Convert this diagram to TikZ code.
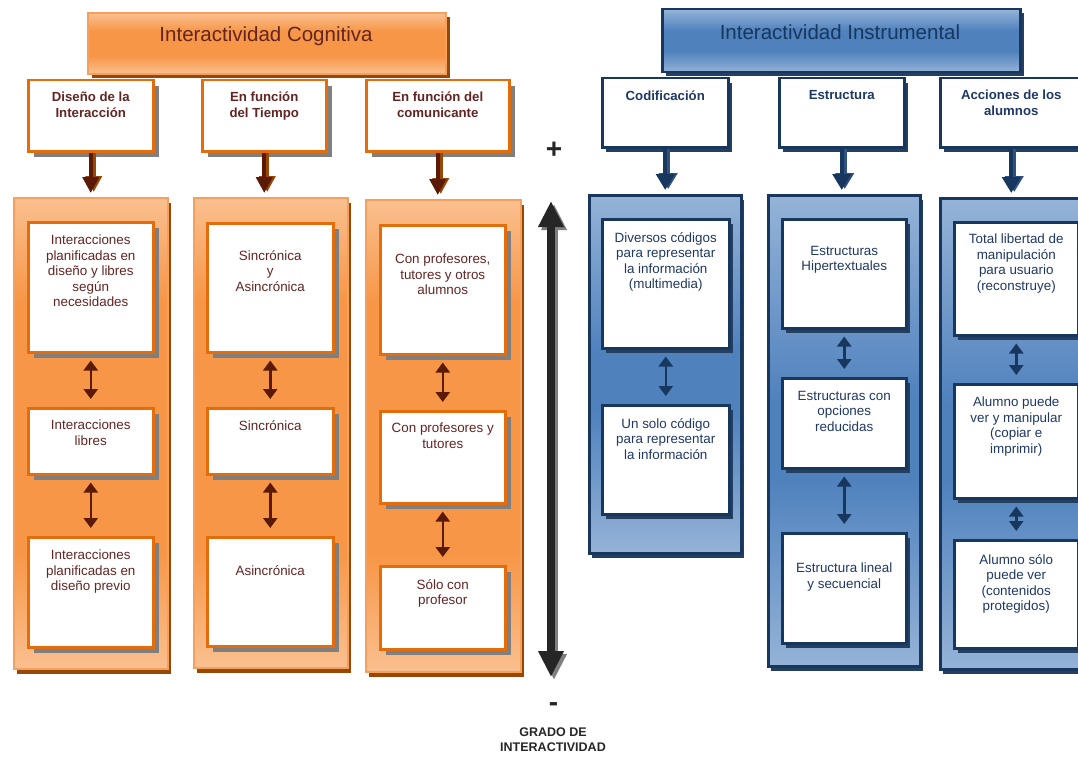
\documentclass[tikz,border=0pt]{standalone}
\usepackage{fontspec}
\setmainfont{Liberation Sans}
\usetikzlibrary{arrows.meta,shadows}

\definecolor{orLight}{HTML}{FAC090}
\definecolor{orMid}{HTML}{F79646}
\definecolor{orEdge}{HTML}{F5A05E}
\definecolor{orLine}{HTML}{E46C0A}
\definecolor{orDark}{HTML}{984806}
\definecolor{brownTxt}{HTML}{632523}
\definecolor{brownArrow}{HTML}{5A1A06}
\definecolor{blLight}{HTML}{95B3D7}
\definecolor{blMid}{HTML}{4F81BD}
\definecolor{navy}{HTML}{17375E}
\definecolor{navyTxt}{HTML}{1F3864}
\definecolor{navyShadow}{HTML}{243F60}
\definecolor{navyArrowSh}{HTML}{2F5080}
\definecolor{shGray}{HTML}{7F7F7F}
\definecolor{axisDark}{HTML}{262626}

% vertical fills: light edges, saturated middle band
\pgfdeclareverticalshading{orpanelfill}{100bp}{color(0bp)=(orLight); color(25bp)=(orLight);
  color(37.5bp)=(orMid); color(64bp)=(orMid); color(75bp)=(orLight); color(100bp)=(orLight)}
\pgfdeclareverticalshading{ortitlefill}{100bp}{color(0bp)=(orLight); color(25bp)=(orLight);
  color(40bp)=(orMid); color(60bp)=(orMid); color(75bp)=(orLight); color(100bp)=(orLight)}
\pgfdeclareverticalshading{blpanelfill}{100bp}{color(0bp)=(blLight); color(25bp)=(blLight);
  color(45bp)=(blMid); color(53bp)=(blMid); color(75bp)=(blLight); color(100bp)=(blLight)}
\pgfdeclareverticalshading{bltitlefill}{100bp}{color(0bp)=(blLight); color(25bp)=(blLight);
  color(42bp)=(blMid); color(58bp)=(blMid); color(75bp)=(blLight); color(100bp)=(blLight)}

\newcommand\bodyfont{\fontsize{13.4}{15.5}\selectfont}
\newcommand\headfont{\fontsize{13.2}{16}\selectfont\bfseries}
\newcommand\titlefont{\fontsize{20.5}{24}\selectfont}

\begin{document}
\begin{tikzpicture}[x=1pt,y=-1pt,
  % shapes
  otitle/.style={draw=orEdge, line width=2pt, shading=ortitlefill,
    drop shadow={shadow xshift=4pt, shadow yshift=-4pt, fill=orDark, opacity=1}, anchor=north west},
  btitle/.style={draw=navy, line width=2.5pt, shading=bltitlefill,
    drop shadow={shadow xshift=4pt, shadow yshift=-4pt, fill=navyShadow, opacity=1}, anchor=north west},
  opanel/.style={draw=orEdge, line width=1.5pt, shading=orpanelfill,
    drop shadow={shadow xshift=3pt, shadow yshift=-5pt, fill=orDark, opacity=1}, anchor=north west},
  bpanel/.style={draw=navy, line width=2.5pt, shading=blpanelfill,
    drop shadow={shadow xshift=3pt, shadow yshift=-5pt, fill=navyShadow, opacity=1}, anchor=north west},
  obox/.style={draw=orLine, line width=2.5pt, fill=white,
    drop shadow={shadow xshift=6pt, shadow yshift=-6pt, fill=shGray, opacity=1}, anchor=north west},
  bbox/.style={draw=navy, line width=2.5pt, fill=white,
    drop shadow={shadow xshift=4pt, shadow yshift=-5pt, fill=navyShadow, opacity=1}, anchor=north west},
  % texts
  otxt/.style={text=brownTxt, font=\bodyfont, align=center, inner sep=0pt, anchor=north},
  btxt/.style={text=navyTxt, font=\bodyfont, align=center, inner sep=0pt, anchor=north},
  ohead/.style={text=brownTxt, font=\headfont, align=center, inner sep=0pt, anchor=north},
  bhead/.style={text=navyTxt, font=\headfont, align=center, inner sep=0pt, anchor=north},
  signtxt/.style={font=\fontsize{28}{30}\selectfont\bfseries, text=axisDark, inner sep=0pt},
  % connectors
  odown/.style={draw=brownArrow, line width=4pt, -{Triangle[width=16pt,length=16pt]}, shorten >=4pt},
  odownsh/.style={draw=orDark, line width=4pt, -{Triangle[width=16pt,length=16pt]}, shorten >=5pt,
    transform canvas={xshift=3pt}},
  bdown/.style={draw=navy, line width=4pt, -{Triangle[width=18pt,length=16pt]}, shorten >=4pt},
  bdownsh/.style={draw=navyArrowSh, line width=4pt, -{Triangle[width=18pt,length=16pt]}, shorten >=5pt,
    transform canvas={xshift=3pt}},
  odbl/.style={draw=brownArrow, line width=2.5pt,
    {Triangle[width=14pt,length=10pt]}-{Triangle[width=14pt,length=10pt]}, shorten <=7pt, shorten >=8pt},
  bdbl/.style={draw=navy, line width=2.5pt,
    {Triangle[width=14pt,length=10pt]}-{Triangle[width=14pt,length=10pt]}, shorten <=7pt, shorten >=8pt},
  axis/.style={draw=axisDark, line width=8pt,
    {Triangle[width=24pt,length=26pt]}-{Triangle[width=24pt,length=26pt]}},
  axissh/.style={draw=shGray, line width=8pt,
    {Triangle[width=24pt,length=26pt]}-{Triangle[width=24pt,length=26pt]},
    transform canvas={xshift=3pt,yshift=-3pt}},
]
\useasboundingbox (0,0) rectangle (1078,757);
\fill[white] (0,0) rectangle (1078,757);

% ---------- Interactividad Cognitiva ----------
\node[otitle, minimum width=358pt, minimum height=61pt] (T1) at (87,12) {};
\node[text=brownTxt, font=\titlefont, inner sep=0pt, anchor=base] (T1t) at (266,42) {Interactividad Cognitiva};

\node[obox, minimum width=125pt, minimum height=71pt] (H1) at (27,79) {};
\node[obox, minimum width=124pt, minimum height=71pt] (H2) at (201,79) {};
\node[obox, minimum width=143pt, minimum height=71pt] (H3) at (365,79) {};
\node[ohead] (H1t) at (H1.north |- 0,91.5) {Diseño de la\\Interacción};
\node[ohead] (H2t) at (H2.north |- 0,91.5) {En función\\del Tiempo};
\node[ohead] (H3t) at (H3.north |- 0,91.5) {En función del\\comunicante};

\node[opanel, minimum width=154pt, minimum height=471pt] (P1) at (13,197) {};
\node[opanel, minimum width=154pt, minimum height=470pt] (P2) at (193,197) {};
\node[opanel, minimum width=155pt, minimum height=472pt] (P3) at (365,199) {};

\node[obox, minimum width=125pt, minimum height=130pt] (P1a) at (27,221) {};
\node[obox, minimum width=125pt, minimum height=66pt]  (P1b) at (27,407) {};
\node[obox, minimum width=125pt, minimum height=110pt] (P1c) at (27,536) {};
\node[obox, minimum width=126pt, minimum height=129pt] (P2a) at (206,222) {};
\node[obox, minimum width=126pt, minimum height=66pt]  (P2b) at (206,407) {};
\node[obox, minimum width=126pt, minimum height=109pt] (P2c) at (206,536) {};
\node[obox, minimum width=125pt, minimum height=129pt] (P3a) at (379,224) {};
\node[obox, minimum width=125pt, minimum height=92pt]  (P3b) at (379,410) {};
\node[obox, minimum width=125pt, minimum height=83pt]  (P3c) at (379,565) {};

\node[otxt] (P1at) at (P1a.north |- 0,235) {Interacciones\\planificadas en\\diseño y libres\\según\\necesidades};
\node[otxt] (P1bt) at (P1b.north |- 0,420) {Interacciones\\libres};
\node[otxt] (P1ct) at (P1c.north |- 0,550) {Interacciones\\planificadas en\\diseño previo};
\node[otxt] (P2at) at (P2a.north |- 0,250) {Sincrónica\\y\\Asincrónica};
\node[otxt] (P2bt) at (P2b.north |- 0,420) {Sincrónica};
\node[otxt] (P2ct) at (P2c.north |- 0,565) {Asincrónica};
\node[otxt] (P3at) at (P3a.north |- 0,254) {Con profesores,\\tutores y otros\\alumnos};
\node[otxt] (P3bt) at (P3b.north |- 0,423) {Con profesores y\\tutores};
\node[otxt] (P3ct) at (P3c.north |- 0,579) {Sólo con\\profesor};

% connectors, cognitive side
\foreach \h/\p in {H1/P1, H2/P2, H3/P3}{
  \draw[odownsh] (\h.south) -- (\h.south |- \p.north);
  \draw[odown] (\h.south) -- (\h.south |- \p.north);
}
\foreach \a/\b in {P1a/P1b, P1b/P1c, P2a/P2b, P2b/P2c, P3a/P3b, P3b/P3c}{
  \draw[odbl] (\a.south) -- (\a.south |- \b.north);
}

% ---------- Interactividad Instrumental ----------
\node[btitle, minimum width=358pt, minimum height=63pt] (T2) at (661,8) {};
\node[text=navy, font=\titlefont, inner sep=0pt, anchor=base] (T2t) at (840,40) {Interactividad Instrumental};

\node[bbox, minimum width=126pt, minimum height=69pt] (G1) at (601,77) {};
\node[bbox, minimum width=125pt, minimum height=69pt] (G2) at (778,77) {};
\node[bbox, minimum width=142pt, minimum height=69pt] (G3) at (939,77) {};
\node[bhead] (G1t) at (G1.north |- 0,90.5) {Codificación};
\node[bhead] (G2t) at (G2.north |- 0,90.5) {Estructura};
\node[bhead] (G3t) at (G3.north |- 0,89.5) {Acciones de los\\alumnos};

\node[bpanel, minimum width=152pt, minimum height=358pt] (Q1) at (588,194) {};
\node[bpanel, minimum width=152pt, minimum height=471pt] (Q2) at (767,194) {};
\node[bpanel, minimum width=160pt, minimum height=471pt] (Q3) at (939,197) {};

\node[bbox, minimum width=127pt, minimum height=129pt] (Q1a) at (601,218) {};
\node[bbox, minimum width=127pt, minimum height=109pt] (Q1b) at (601,404) {};
\node[bbox, minimum width=124pt, minimum height=109pt] (Q2a) at (781,218) {};
\node[bbox, minimum width=124pt, minimum height=90pt]  (Q2b) at (781,377) {};
\node[bbox, minimum width=124pt, minimum height=110pt] (Q2c) at (781,532) {};
\node[bbox, minimum width=124pt, minimum height=113pt] (Q3a) at (953,221) {};
\node[bbox, minimum width=124pt, minimum height=114pt] (Q3b) at (953,383) {};
\node[bbox, minimum width=124pt, minimum height=108pt] (Q3c) at (953,539) {};

\node[btxt] (Q1at) at (Q1a.north |- 0,232) {Diversos códigos\\para representar\\la información\\(multimedia)};
\node[btxt] (Q1bt) at (Q1b.north |- 0,418) {Un solo código\\para representar\\la información};
\node[btxt] (Q2at) at (Q2a.north |- 0,246) {Estructuras\\Hipertextuales};
\node[btxt] (Q2bt) at (Q2b.north |- 0,391) {Estructuras con\\opciones\\reducidas};
\node[btxt] (Q2ct) at (Q2c.north |- 0,563) {Estructura lineal\\y secuencial};
\node[btxt] (Q3at) at (Q3a.north |- 0,234) {Total libertad de\\manipulación\\para usuario\\(reconstruye)};
\node[btxt] (Q3bt) at (Q3b.north |- 0,397) {Alumno puede\\ver y manipular\\(copiar e\\imprimir)};
\node[btxt] (Q3ct) at (Q3c.north |- 0,554) {Alumno sólo\\puede ver\\(contenidos\\protegidos)};

% connectors, instrumental side
\foreach \h/\p in {G1/Q1, G2/Q2, G3/Q3}{
  \draw[bdownsh] (\h.south) -- (\h.south |- \p.north);
  \draw[bdown] (\h.south) -- (\h.south |- \p.north);
}
\foreach \a/\b in {Q1a/Q1b, Q2a/Q2b, Q2b/Q2c, Q3a/Q3b, Q3b/Q3c}{
  \draw[bdbl] (\a.south) -- (\a.south |- \b.north);
}

% ---------- scale of interactivity ----------
\node[signtxt] (plus) at (554,150) {+};
\node[signtxt] (minus) at (553.5,707) {-};
\coordinate (axtop) at (551,201);
\coordinate (axbot) at (551,677);
\draw[axissh] (axtop) -- (axbot);
\draw[axis] (axtop) -- (axbot);
\node[font=\fontsize{12.5}{15}\selectfont\bfseries, text=axisDark, align=center, inner sep=0pt, anchor=north]
  (grado) at (553,727.5) {GRADO DE\\INTERACTIVIDAD};
\end{tikzpicture}
\end{document}
